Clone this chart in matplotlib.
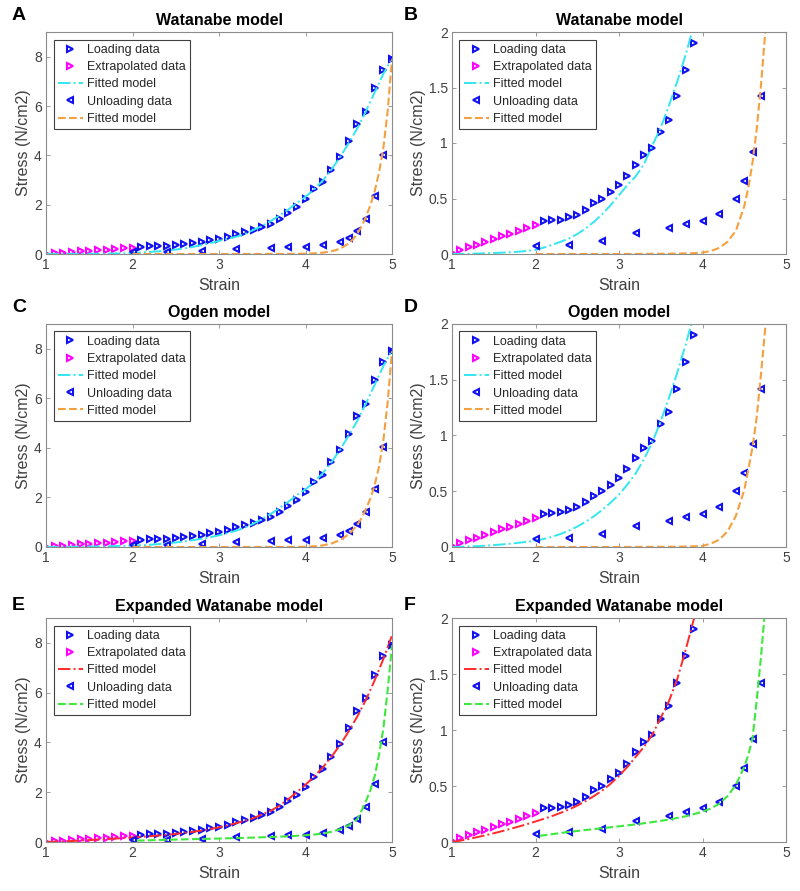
import numpy as np
import matplotlib
matplotlib.use('Agg')
import matplotlib.pyplot as plt
from matplotlib.ticker import FormatStrFormatter

plt.rcParams['font.family'] = ['Liberation Sans', 'DejaVu Sans']

# measured data (same in every panel)
ext_x = [1.0, 1.1, 1.2, 1.3, 1.4, 1.5, 1.6, 1.7, 1.8, 1.9, 2.0]
ext_y = [0.01, 0.035, 0.06, 0.085, 0.11, 0.135, 0.16, 0.18, 0.205, 0.23, 0.26]

load_x = [2.1, 2.2, 2.3, 2.4, 2.5, 2.6, 2.7, 2.8, 2.9, 3.0,
          3.1, 3.2, 3.3, 3.4, 3.5, 3.6, 3.7, 3.8, 3.9, 4.0,
          4.1, 4.2, 4.3, 4.4, 4.5, 4.6, 4.7, 4.8, 4.9, 5.0]
load_y = [0.30, 0.305, 0.31, 0.33, 0.355, 0.40, 0.46, 0.50, 0.56, 0.62,
          0.70, 0.80, 0.89, 0.955, 1.10, 1.21, 1.42, 1.66, 1.90, 2.22,
          2.63, 2.92, 3.42, 3.93, 4.58, 5.27, 5.77, 6.72, 7.47, 7.92]

unload_x = [2.0, 2.4, 2.8, 3.2, 3.6, 3.8, 4.0, 4.2, 4.4, 4.5, 4.6, 4.7, 4.8, 4.9, 5.0]
unload_y = [0.075, 0.085, 0.12, 0.19, 0.23, 0.27, 0.30, 0.36, 0.50, 0.66, 0.92, 1.42, 2.34, 4.03, 7.92]

# fitted curves
fit_x = [1.0, 1.1, 1.2, 1.3, 1.4, 1.5, 1.6, 1.7, 1.8, 1.9,
         2.0, 2.1, 2.2, 2.3, 2.4, 2.5, 2.6, 2.7, 2.8, 2.9,
         3.0, 3.1, 3.2, 3.3, 3.4, 3.5, 3.6, 3.7, 3.8, 3.9,
         4.0, 4.1, 4.2, 4.3, 4.4, 4.5, 4.6, 4.7, 4.8, 4.9, 5.0]
wat_load = [0.0, 0.001, 0.002, 0.004, 0.006, 0.009, 0.012, 0.016, 0.021, 0.028,
            0.037, 0.058, 0.083, 0.11, 0.14, 0.18, 0.23, 0.29, 0.36, 0.44,
            0.53, 0.62, 0.70, 0.81, 0.98, 1.14, 1.34, 1.56, 1.80, 2.07,
            2.32, 2.62, 2.98, 3.42, 3.93, 4.5, 5.1, 5.8, 6.55, 7.3, 7.95]
ogd_load = [0.0, 0.002, 0.005, 0.008, 0.012, 0.017, 0.023, 0.030, 0.038, 0.047,
            0.057, 0.072, 0.092, 0.117, 0.147, 0.183, 0.226, 0.276, 0.333, 0.398,
            0.47, 0.56, 0.66, 0.79, 0.94, 1.13, 1.34, 1.57, 1.82, 2.09,
            2.33, 2.62, 2.98, 3.42, 3.93, 4.5, 5.1, 5.8, 6.55, 7.3, 7.95]
exp_load = [0.0, 0.012, 0.027, 0.043, 0.06, 0.078, 0.097, 0.117, 0.138, 0.16,
            0.183, 0.207, 0.232, 0.26, 0.29, 0.325, 0.365, 0.41, 0.46, 0.52,
            0.59, 0.67, 0.76, 0.85, 0.96, 1.11, 1.26, 1.46, 1.72, 2.0,
            2.3, 2.63, 3.0, 3.42, 3.9, 4.45, 5.05, 5.72, 6.5, 7.35, 8.3]

unfit_x = [2.0, 2.5, 3.0, 3.5, 3.8, 3.9, 4.0, 4.1, 4.2, 4.3, 4.4,
           4.5, 4.55, 4.6, 4.65, 4.7, 4.75, 4.8, 4.85, 4.9, 4.95, 5.0]
wat_unload = [0.0, 0.0, 0.0, 0.002, 0.005, 0.008, 0.013, 0.027, 0.055, 0.11, 0.21,
              0.43, 0.60, 0.83, 1.13, 1.52, 1.98, 2.55, 3.3, 4.3, 5.8, 7.9]
ogd_unload = [0.0, 0.0, 0.0, 0.002, 0.004, 0.006, 0.01, 0.03, 0.065, 0.14, 0.28,
              0.51, 0.70, 0.90, 1.17, 1.55, 1.95, 2.5, 3.25, 4.3, 5.85, 7.9]

expfit_x = [2.05, 2.2, 2.4, 2.6, 2.8, 3.0, 3.2, 3.4, 3.6, 3.8, 4.0, 4.1, 4.2, 4.3, 4.4,
            4.5, 4.55, 4.6, 4.65, 4.7, 4.75, 4.8, 4.85, 4.9, 4.95, 5.0]
exp_unload = [0.055, 0.07, 0.09, 0.107, 0.123, 0.14, 0.157, 0.178, 0.20, 0.23, 0.27, 0.30, 0.34, 0.41, 0.51,
              0.67, 0.78, 0.93, 1.27, 1.65, 2.08, 2.65, 3.5, 4.55, 6.1, 7.9]

tick_col = '#404040'
edge_col = '#8c8c8c'


def draw_panel(ax, title, lfit, lcol, lstyle, ufx, ufy, ucol, ymax, yticks):
    mk = dict(ms=4.6, mfc='none', mew=1.5, ls='none')
    ax.plot(load_x, load_y, marker='>', mec='#1010f0', label='Loading data', **mk)
    ax.plot(ext_x, ext_y, marker='>', mec='#ff00ff', label='Extrapolated data', **mk)
    ax.plot(fit_x, lfit, lstyle, color=lcol, lw=1.4, label='Fitted model')
    ax.plot(unload_x, unload_y, marker='<', mec='#1010f0', label='Unloading data', **mk)
    ax.plot(ufx, ufy, '--', color=ucol, lw=1.5, label='Fitted model')

    ax.set_xlim(1, 5)
    ax.set_ylim(0, ymax)
    ax.set_xticks([1, 2, 3, 4, 5])
    ax.set_yticks(yticks)
    ax.yaxis.set_major_formatter(FormatStrFormatter('%g'))
    ax.tick_params(direction='in', top=True, right=True, length=3, width=0.6,
                   colors=edge_col, labelcolor=tick_col, labelsize=10, pad=3)
    for sp in ax.spines.values():
        sp.set_color(edge_col)
        sp.set_linewidth(0.8)
    ax.set_title(title, fontsize=11.5, fontweight='bold', pad=5)
    ax.set_xlabel('Strain', fontsize=11.5, color=tick_col, labelpad=4)
    ax.set_ylabel('Stress (N/cm2)', fontsize=11.5, color=tick_col, labelpad=2)
    leg = ax.legend(loc='upper left', fontsize=9, fancybox=False, framealpha=1,
                    edgecolor='#404040', handlelength=2.0, handletextpad=0.3,
                    labelspacing=0.42, borderaxespad=0.6, borderpad=0.35)
    leg.get_frame().set_linewidth(0.8)
    for t in leg.get_texts():
        t.set_color('#262626')


fig = plt.figure(figsize=(8, 8.91), dpi=100)
W, H = 800.0, 891.0

rows = [(32, 254), (324, 547), (618, 842)]
cols = [(46, 392), (452, 786)]


def make_ax(r, c):
    top, bot = rows[r]
    left, right = cols[c]
    return fig.add_axes([left / W, 1 - bot / H, (right - left) / W, (bot - top) / H])


panels = [
    ('Watanabe model', wat_load, '#33e6f0', '-.', unfit_x, wat_unload, '#f5a040'),
    ('Ogden model', ogd_load, '#33e6f0', '-.', unfit_x, ogd_unload, '#f5a040'),
    ('Expanded Watanabe model', exp_load, '#ff2a2a', '-.', expfit_x, exp_unload, '#3de83d'),
]
letters = [['A', 'B'], ['C', 'D'], ['E', 'F']]
letter_y = [16, 308, 606]
letter_x = [12, 404]

for r, (title, lf, lc, ls, ux, uy, uc) in enumerate(panels):
    axl = make_ax(r, 0)
    draw_panel(axl, title, lf, lc, ls, ux, uy, uc, 9, [0, 2, 4, 6, 8])
    axr = make_ax(r, 1)
    draw_panel(axr, title, lf, lc, ls, ux, uy, uc, 2, [0, 0.5, 1, 1.5, 2])
    for c in range(2):
        fig.text(letter_x[c] / W, 1 - letter_y[r] / H, letters[r][c],
                 fontsize=14, fontweight='bold', ha='left', va='center')

fig.savefig('out.png', dpi=100)
